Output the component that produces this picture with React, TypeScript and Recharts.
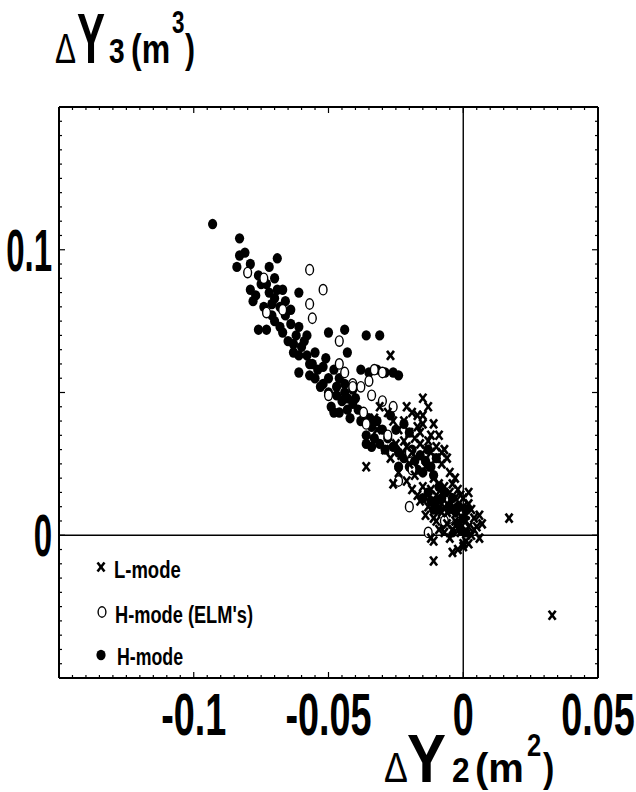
import React from 'react';
import { ScatterChart, Scatter, XAxis, YAxis, ReferenceLine } from 'recharts';

// ---- data (ΔY2 [m^2], ΔY3 [m^3]) ----
const lMode: [number, number][] = [
  [-0.027, 0.063], [-0.015, 0.048], [-0.015, 0.042], [-0.011, 0.039], [-0.032, 0.037], [-0.036, 0.024],
  [-0.007, 0.030], [-0.003, 0.020], [-0.026, 0.018], [-0.017, 0.014], [-0.011, 0.006], [0.006, 0.007],
  [0.006, -0.001], [-0.011, -0.002], [0.000, -0.003], [0.017, 0.006], [-0.021, 0.045], [0.033, -0.028],
  [-0.011, -0.009], [-0.004, -0.006], [0.000, -0.004], [-0.012, -0.001],
  [-0.022, 0.040], [-0.020, 0.036], [-0.018, 0.034], [-0.016, 0.032], [-0.013, 0.033], [-0.012, 0.029],
  [-0.010, 0.027], [-0.008, 0.025], [-0.014, 0.024], [-0.011, 0.020], [-0.009, 0.018], [-0.007, 0.017],
  [-0.005, 0.015], [-0.003, 0.013], [-0.006, 0.011], [-0.004, 0.009], [-0.002, 0.008], [0.000, 0.010],
  [0.001, 0.005], [0.002, 0.003], [-0.001, 0.001], [0.003, 0.000], [0.004, 0.006], [0.002, 0.011],
  [-0.008, 0.008], [-0.010, 0.005], [-0.013, 0.010], [-0.015, 0.017], [-0.018, 0.021], [-0.020, 0.025],
  [-0.023, 0.028], [-0.025, 0.032], [-0.027, 0.027], [-0.029, 0.030], [-0.019, 0.043], [-0.017, 0.038],
  [-0.013, 0.045], [-0.009, 0.035], [-0.024, 0.022], [-0.006, 0.004], [0.005, 0.003], [0.001, -0.002],
  [-0.002, -0.005], [-0.007, 0.001], [-0.033, 0.041], [-0.031, 0.045],
  [-0.016, 0.036], [-0.014, 0.030], [-0.012, 0.035], [-0.010, 0.031], [-0.008, 0.029], [-0.006, 0.027],
  [-0.005, 0.022], [-0.004, 0.018], [-0.002, 0.016], [-0.001, 0.014], [-0.012, 0.016], [-0.010, 0.014],
  [-0.008, 0.011], [-0.006, 0.008], [-0.003, 0.005], [-0.001, 0.004], [0.001, 0.007], [0.003, 0.009],
  [0.004, 0.002], [0.002, -0.003], [-0.004, 0.002], [-0.009, 0.002], [-0.014, 0.007], [-0.016, 0.012],
  [-0.019, 0.016], [-0.021, 0.019], [-0.022, 0.033], [-0.024, 0.037], [-0.026, 0.040], [-0.028, 0.043],
  [-0.017, 0.042], [-0.015, 0.039], [-0.019, 0.029], [-0.021, 0.031], [0.000, 0.013], [0.002, 0.015],
  [-0.005, -0.001], [0.007, 0.004],
];

const hModeElm: [number, number][] = [
  [-0.080, 0.092], [-0.057, 0.093], [-0.052, 0.086], [-0.057, 0.081], [-0.056, 0.076], [-0.067, 0.079],
  [-0.073, 0.078], [-0.074, 0.090], [-0.046, 0.068], [-0.046, 0.060], [-0.044, 0.057], [-0.041, 0.053],
  [-0.033, 0.058], [-0.030, 0.057], [-0.034, 0.049], [-0.030, 0.047], [-0.050, 0.049], [-0.041, 0.052],
  [-0.037, 0.043], [-0.036, 0.039], [-0.028, 0.035], [-0.020, 0.029], [-0.024, 0.019], [-0.020, 0.010],
  [-0.013, 0.001], [-0.005, 0.006], [-0.019, 0.023], [-0.007, 0.005], [-0.006, 0.002], [-0.038, 0.052],
  [-0.035, 0.054], [-0.026, 0.045],
];

const hMode: [number, number][] = [
  [-0.093, 0.109], [-0.083, 0.104], [-0.083, 0.098], [-0.081, 0.099], [-0.072, 0.094], [-0.069, 0.097],
  [-0.079, 0.086], [-0.061, 0.085], [-0.076, 0.072], [-0.073, 0.072], [-0.050, 0.071], [-0.044, 0.072],
  [-0.036, 0.070], [-0.031, 0.070], [-0.061, 0.057], [-0.057, 0.056], [-0.052, 0.059], [-0.043, 0.064],
  [-0.038, 0.058], [-0.035, 0.057], [-0.032, 0.058], [-0.029, 0.057], [-0.026, 0.057], [-0.024, 0.056],
  [-0.075, 0.088], [-0.072, 0.085], [-0.070, 0.083], [-0.068, 0.080], [-0.074, 0.080], [-0.071, 0.077],
  [-0.066, 0.077], [-0.064, 0.074], [-0.068, 0.073], [-0.062, 0.070], [-0.065, 0.068], [-0.060, 0.066],
  [-0.063, 0.064], [-0.058, 0.063], [-0.056, 0.060], [-0.059, 0.068], [-0.076, 0.091], [-0.078, 0.082],
  [-0.070, 0.090], [-0.067, 0.086], [-0.061, 0.063], [-0.057, 0.060], [-0.052, 0.053], [-0.047, 0.049],
  [-0.045, 0.047], [-0.043, 0.044], [-0.046, 0.043], [-0.041, 0.046], [-0.049, 0.045], [-0.044, 0.050],
  [-0.050, 0.050], [-0.048, 0.043], [-0.036, 0.035], [-0.034, 0.031], [-0.036, 0.032], [-0.024, 0.029],
  [-0.024, 0.024], [-0.019, 0.030], [-0.016, 0.028], [-0.014, 0.026], [-0.012, 0.024], [-0.017, 0.023],
  [-0.010, 0.027], [-0.013, 0.030], [-0.015, 0.022], [-0.027, 0.042], [-0.022, 0.039], [-0.025, 0.037],
  [-0.013, 0.015], [-0.010, 0.012], [-0.008, 0.013], [-0.005, 0.010], [-0.003, 0.008], [-0.006, 0.006],
  [-0.002, 0.004], [0.000, 0.006], [-0.011, 0.009], [-0.004, 0.013], [-0.001, 0.002], [0.001, 0.009],
  [-0.053, 0.052], [-0.050, 0.055], [-0.047, 0.052], [-0.044, 0.053], [-0.041, 0.051], [-0.055, 0.055],
  [-0.032, 0.040], [-0.030, 0.037], [-0.028, 0.034], [-0.034, 0.038], [-0.020, 0.036],
  [-0.079, 0.095], [-0.077, 0.084], [-0.073, 0.088], [-0.071, 0.081], [-0.069, 0.086], [-0.066, 0.082],
  [-0.064, 0.079], [-0.070, 0.075], [-0.067, 0.071], [-0.063, 0.067], [-0.061, 0.073], [-0.058, 0.070],
  [-0.055, 0.064], [-0.054, 0.058], [-0.051, 0.062], [-0.048, 0.058], [-0.046, 0.055], [-0.043, 0.048],
  [-0.040, 0.048], [-0.039, 0.044], [-0.042, 0.041], [-0.038, 0.040], [-0.035, 0.041], [-0.033, 0.034],
  [-0.031, 0.032], [-0.029, 0.030], [-0.026, 0.031], [-0.022, 0.027], [-0.020, 0.024], [-0.018, 0.026],
  [-0.011, 0.021], [-0.009, 0.017], [-0.007, 0.015], [-0.012, 0.012], [-0.009, 0.009], [-0.007, 0.003],
  [-0.004, 0.001], [-0.002, 0.010], [0.001, 0.001], [-0.015, 0.013], [-0.084, 0.094],
];

const seriesNames = ['L-mode', "H-mode (ELM's)", 'H-mode'];

const xDomain: [number, number] = [-0.15, 0.05];
const yDomain: [number, number] = [-0.05, 0.15];
const xMajorTicks = [-0.1, -0.05, 0, 0.05];
const xTickLabels = ['-0.1', '-0.05', '0', '0.05'];
const yMajorTicks = [0, 0.1];
const yTickLabels = ['0', '0.1'];

// ---- helpers ----
const toPoints = (arr: [number, number][]) => arr.map(([x, y]) => ({ x, y }));
const FONT = "'Liberation Sans', Arial, sans-serif";

function stepTicks(min: number, max: number, step: number) {
  const out: number[] = [];
  const n = Math.round((max - min) / step);
  for (let i = 0; i <= n; i++) out.push(Math.round((min + i * step) * 100000) / 100000);
  return out;
}
const xTicks = stepTicks(xDomain[0], xDomain[1], 0.005);
const yTicks = stepTicks(yDomain[0], yDomain[1], 0.005);
const labelFor = (v: number, majors: number[], labels: string[]) => {
  const i = majors.findIndex((m) => Math.abs(m - v) < 1e-9);
  return i >= 0 ? labels[i] : null;
};
const isMajor = (v: number) => Math.abs(v / 0.05 - Math.round(v / 0.05)) < 1e-6;

const BottomTick = (props: any) => {
  const { x, y, payload } = props;
  const v = payload.value;
  const lab = labelFor(v, xMajorTicks, xTickLabels);
  const len = isMajor(v) ? 6 : 3;
  return (
    <g>
      <line x1={x} x2={x} y1={y} y2={y - len} stroke="#000" strokeWidth={1.2} />
      {lab !== null && (
        <text transform={`translate(${x},${y + 57}) scale(0.63,1)`} textAnchor="middle" fontFamily={FONT} fontWeight="bold" fontSize={60} fill="#000">
          {lab}
        </text>
      )}
    </g>
  );
};
const TopTick = (props: any) => {
  const { x, y, payload } = props;
  const len = isMajor(payload.value) ? 6 : 3;
  return <line x1={x} x2={x} y1={y} y2={y + len} stroke="#000" strokeWidth={1.2} />;
};
const LeftTick = (props: any) => {
  const { x, y, payload } = props;
  const v = payload.value;
  const lab = labelFor(v, yMajorTicks, yTickLabels);
  const len = isMajor(v) ? 6 : 3;
  return (
    <g>
      <line x1={x} x2={x + len} y1={y} y2={y} stroke="#000" strokeWidth={1.2} />
      {lab !== null && (
        <text transform={`translate(${x - 7},${y + 21}) scale(0.55,1)`} textAnchor="end" fontFamily={FONT} fontWeight="bold" fontSize={60} fill="#000">
          {lab}
        </text>
      )}
    </g>
  );
};
const RightTick = (props: any) => {
  const { x, y, payload } = props;
  const len = isMajor(payload.value) ? 6 : 3;
  return <line x1={x} x2={x - len} y1={y} y2={y} stroke="#000" strokeWidth={1.2} />;
};

// ---- markers ----
const DotShape = (p: any) => <ellipse cx={p.cx} cy={p.cy} rx={4.6} ry={5.2} fill="#000" />;
const RingShape = (p: any) => <ellipse cx={p.cx} cy={p.cy} rx={3.9} ry={5.2} fill="#fff" stroke="#000" strokeWidth={1.4} />;
const CrossShape = (p: any) => (
  <g stroke="#000" strokeWidth={2.6}>
    <line x1={p.cx - 3.5} y1={p.cy - 4.5} x2={p.cx + 3.5} y2={p.cy + 4.5} />
    <line x1={p.cx + 3.5} y1={p.cy - 4.5} x2={p.cx - 3.5} y2={p.cy + 4.5} />
  </g>
);

const T = ({ x, y, fs, sx = 0.85, bold = true, children }: any) => (
  <text transform={`translate(${x},${y}) scale(${sx},1)`} fontFamily={FONT} fontWeight={bold ? 'bold' : 'normal'} fontSize={fs} fill="#000">
    {children}
  </text>
);

const Overlay = () => (
  <svg width={636} height={792} style={{ position: 'absolute', left: 0, top: 0, pointerEvents: 'none' }}>
    {/* y-axis title */}
    <T x={55} y={63} fs={42} sx={0.75} bold={false}>Δ</T>
    <T x={77} y={63} fs={70} sx={0.6}>Y</T>
    <T x={109} y={63} fs={36} sx={0.78}>3</T>
    <T x={131} y={63} fs={40} sx={0.8}>(m</T>
    <T x={172} y={33} fs={32} sx={0.7}>3</T>
    <T x={185} y={63} fs={40} sx={0.75}>)</T>
    {/* x-axis title */}
    <T x={384} y={782} fs={42} sx={0.85} bold={false}>Δ</T>
    <T x={407} y={782} fs={68} sx={0.86}>Y</T>
    <T x={452} y={782} fs={36} sx={0.88}>2</T>
    <T x={475} y={782} fs={40} sx={1.0}>(m</T>
    <T x={527} y={756} fs={32} sx={0.8}>2</T>
    <T x={543} y={782} fs={40} sx={0.85}>)</T>
    {/* legend */}
    <CrossShape cx={101} cy={567} />
    <T x={114} y={578} fs={24} sx={0.77}>{seriesNames[0]}</T>
    <RingShape cx={102} cy={612} />
    <T x={115} y={623} fs={24} sx={0.76}>{seriesNames[1]}</T>
    <DotShape cx={101} cy={655} />
    <T x={117} y={665} fs={24} sx={0.74}>{seriesNames[2]}</T>
  </svg>
);

export default function App() {
  return (
    <div style={{ position: 'absolute', left: 0, top: 0, width: 636, height: 792, background: '#fff' }}>
      <ScatterChart width={636} height={792} margin={{ top: 106, right: 37, bottom: 113, left: 58 }}>
        <XAxis xAxisId="bottom" type="number" dataKey="x" domain={xDomain} ticks={xTicks} interval={0}
          orientation="bottom" height={1} tickSize={0} tickMargin={0} tickLine={false}
          axisLine={{ stroke: '#000', strokeWidth: 2 }} tick={BottomTick} allowDataOverflow />
        <XAxis xAxisId="top" type="number" dataKey="x" domain={xDomain} ticks={xTicks} interval={0}
          orientation="top" height={1} tickSize={0} tickMargin={0} tickLine={false}
          axisLine={{ stroke: '#000', strokeWidth: 2 }} tick={TopTick} allowDataOverflow />
        <YAxis yAxisId="left" type="number" dataKey="y" domain={yDomain} ticks={yTicks} interval={0}
          orientation="left" width={1} tickSize={0} tickMargin={0} tickLine={false}
          axisLine={{ stroke: '#000', strokeWidth: 2 }} tick={LeftTick} allowDataOverflow />
        <YAxis yAxisId="right" type="number" dataKey="y" domain={yDomain} ticks={yTicks} interval={0}
          orientation="right" width={1} tickSize={0} tickMargin={0} tickLine={false}
          axisLine={{ stroke: '#000', strokeWidth: 2 }} tick={RightTick} allowDataOverflow />
        <ReferenceLine xAxisId="bottom" yAxisId="left" x={0} stroke="#000" strokeWidth={1.4} />
        <ReferenceLine xAxisId="bottom" yAxisId="left" y={0} stroke="#000" strokeWidth={1.4} />
        <Scatter name={seriesNames[2]} data={toPoints(hMode)} xAxisId="bottom" yAxisId="left" shape={DotShape} isAnimationActive={false} />
        <Scatter name={seriesNames[1]} data={toPoints(hModeElm)} xAxisId="bottom" yAxisId="left" shape={RingShape} isAnimationActive={false} />
        <Scatter name={seriesNames[0]} data={toPoints(lMode)} xAxisId="bottom" yAxisId="left" shape={CrossShape} isAnimationActive={false} />
      </ScatterChart>
      <Overlay />
    </div>
  );
}
